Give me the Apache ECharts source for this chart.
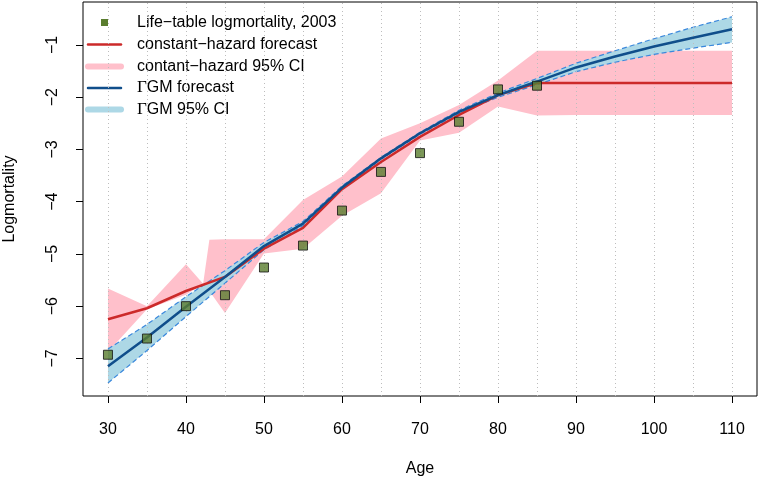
<!DOCTYPE html>
<html>
<head>
<meta charset="utf-8">
<script src="https://cdn.jsdelivr.net/npm/echarts@6/dist/echarts.min.js"></script>
<style>html,body{margin:0;padding:0;background:#fff}#c{width:760px;height:484px}</style>
</head>
<body>
<div id="c"></div>
<script>
// ---- data ----
const ages5 = [30, 35, 40, 45, 50, 55, 60, 65, 70, 75, 80, 85, 90, 95, 100, 105, 110];
const obsAges = [30, 35, 40, 45, 50, 55, 60, 65, 70, 75, 80, 85];
const obsLogMort = [-6.93, -6.62, -6.00, -5.79, -5.26, -4.84, -4.17, -3.43, -3.07, -2.47, -1.85, -1.78];
const chForecast = [-6.25, -6.04, -5.71, -5.44, -4.90, -4.50, -3.76, -3.24, -2.76, -2.34, -1.96, -1.73, -1.73, -1.73, -1.73, -1.73, -1.73];
const gmForecast = [-7.15, -6.60, -6.01, -5.44, -4.85, -4.42, -3.73, -3.17, -2.69, -2.28, -1.96, -1.70, -1.43, -1.22, -1.03, -0.86, -0.70];
const gmUpper    = [-6.82, -6.35, -5.82, -5.32, -4.78, -4.38, -3.70, -3.15, -2.67, -2.25, -1.92, -1.64, -1.35, -1.11, -0.88, -0.66, -0.46];
const gmLower    = [-7.47, -6.85, -6.20, -5.56, -4.92, -4.46, -3.76, -3.19, -2.71, -2.31, -2.00, -1.76, -1.51, -1.33, -1.18, -1.06, -0.95];
const chAges  = [30, 35, 40, 42.2, 43, 45, 50, 55, 60, 65, 70, 75, 80, 85, 90, 95, 100, 105, 110];
const chUpper = [-5.66, -6.00, -5.20, -5.57, -4.73, -4.72, -4.72, -3.97, -3.52, -2.79, -2.50, -2.15, -1.68, -1.11, -1.11, -1.11, -1.11, -1.11, -1.11];
const chLower = [-6.88, -6.06, -5.78, -5.57, -5.71, -6.13, -4.99, -4.90, -4.27, -3.84, -2.83, -2.68, -2.18, -2.35, -2.34, -2.34, -2.34, -2.34, -2.34];
const gridAges = [30, 35, 40, 45, 50, 55, 60, 65, 70, 75, 80, 85, 90, 95, 100, 105, 110];
const xTicks = [30, 40, 50, 60, 70, 80, 90, 100, 110];
const yTicks = [-7, -6, -5, -4, -3, -2, -1];
const legendLabels = ['Life\u2212table logmortality, 2003', 'constant\u2212hazard forecast', 'contant\u2212hazard 95% CI', '{g|\u0393}GM forecast', '{g|\u0393}GM 95% CI'];

// ---- style ----
const FONT = 'Liberation Sans, Arial, Helvetica, sans-serif';
const C_OBS = '#5a7d2e', C_RED = '#cc2a2a', C_PINK = '#ffc0cb', C_BLUE = '#104e8b', C_LBLUE = '#add8e6', C_DASH = '#3a88dc';

function band(xs, up, lo, color, z) {
  return {
    type: 'custom', z: z, silent: true, animation: false, clip: true,
    data: xs.map((x, i) => [x, up[i], lo[i]]),
    encode: { x: 0, y: [1, 2] },
    renderItem: function (params, api) {
      if (params.dataIndex !== 0) return null;
      const pts = [];
      for (let i = 0; i < xs.length; i++) pts.push(api.coord([xs[i], up[i]]));
      for (let i = xs.length - 1; i >= 0; i--) pts.push(api.coord([xs[i], lo[i]]));
      return { type: 'polygon', shape: { points: pts }, style: { fill: color, stroke: null } };
    }
  };
}
function pairs(xs, ys) { return xs.map((x, i) => [x, ys[i]]); }

const legendX1 = 88, legendX2 = 121, textX = 137;
const rowY = [22.5, 44.5, 66.5, 88, 109.5];
const graphics = [];
graphics.push({ type: 'rect', shape: { x: 101, y: rowY[0] - 3.5, width: 7, height: 7 }, style: { fill: C_OBS }, silent: true });
const legLines = [[C_RED, 2.5], [C_PINK, 6], [C_BLUE, 2.5], [C_LBLUE, 6]];
legLines.forEach((l, k) => {
  graphics.push({ type: 'line', shape: { x1: legendX1, y1: rowY[k + 1], x2: legendX2, y2: rowY[k + 1] }, style: { stroke: l[0], lineWidth: l[1], lineCap: 'round' }, silent: true });
});
legendLabels.forEach((t, k) => {
  graphics.push({ type: 'text', x: textX, y: rowY[k], silent: true,
    style: { text: t, fill: '#000', fontSize: 16, fontFamily: FONT, verticalAlign: 'middle', align: 'left',
      rich: { g: { fontFamily: 'Liberation Serif, DejaVu Serif, serif', fontSize: 17, fill: '#000' } } } });
});

const chart = echarts.init(document.getElementById('c'), null, { renderer: 'canvas' });
chart.setOption({
  animation: false,
  backgroundColor: '#fff',
  grid: { left: 83, right: 3, top: 2, bottom: 88, show: true, borderColor: '#000', borderWidth: 1, backgroundColor: 'transparent',
    containLabel: false, outerBoundsMode: 'none' },
  xAxis: {
    type: 'value', min: 26.8, max: 113.2,
    name: 'Age', nameLocation: 'middle', nameGap: 65,
    nameTextStyle: { fontSize: 16, fontFamily: FONT, color: '#000' },
    axisLine: { show: false },
    axisTick: { show: true, length: 7, inside: false, lineStyle: { color: '#000' }, customValues: xTicks },
    axisLabel: { fontSize: 16, fontFamily: FONT, color: '#000', margin: 26, customValues: xTicks },
    splitLine: { show: false }
  },
  yAxis: {
    type: 'value', min: -7.72, max: -0.177,
    name: 'Logmortality', nameLocation: 'middle', nameGap: 65,
    nameTextStyle: { fontSize: 16, fontFamily: FONT, color: '#000' },
    axisLine: { show: false },
    axisTick: { show: true, length: 7, inside: false, lineStyle: { color: '#000' }, customValues: yTicks },
    axisLabel: { fontSize: 16, fontFamily: FONT, color: '#000', margin: 22, rotate: 90, customValues: yTicks,
      formatter: v => String(v).replace('-', '\u2212') },
    splitLine: { show: false }
  },
  graphic: graphics,
  series: [
    { type: 'line', z: 1, silent: true, data: [[gridAges[0], yTicks[0]]], symbol: 'none', lineStyle: { opacity: 0 },
      markLine: { silent: true, symbol: ['none', 'none'], label: { show: false }, animation: false,
        lineStyle: { type: [1, 3], color: '#bdbdbd', width: 1 },
        data: gridAges.map(a => ({ xAxis: a })) } },
    band(chAges, chUpper, chLower, C_PINK, 2),
    band(ages5, gmUpper, gmLower, C_LBLUE, 3),
    { type: 'line', z: 4, silent: true, data: pairs(ages5, gmUpper), symbol: 'none', lineStyle: { color: C_DASH, width: 1.2, type: [5, 3] } },
    { type: 'line', z: 4, silent: true, data: pairs(ages5, gmLower), symbol: 'none', lineStyle: { color: C_DASH, width: 1.2, type: [5, 3] } },
    { type: 'line', z: 5, silent: true, data: pairs(ages5, chForecast), symbol: 'none', lineStyle: { color: C_RED, width: 2.5 } },
    { type: 'line', z: 6, silent: true, data: pairs(ages5, gmForecast), symbol: 'none', lineStyle: { color: C_BLUE, width: 2.5 } },
    { type: 'scatter', z: 7, silent: true, data: pairs(obsAges, obsLogMort), symbol: 'rect', symbolSize: 9,
      itemStyle: { color: C_OBS, borderColor: '#111', borderWidth: 1 } }
  ]
});
</script>
</body>
</html>
